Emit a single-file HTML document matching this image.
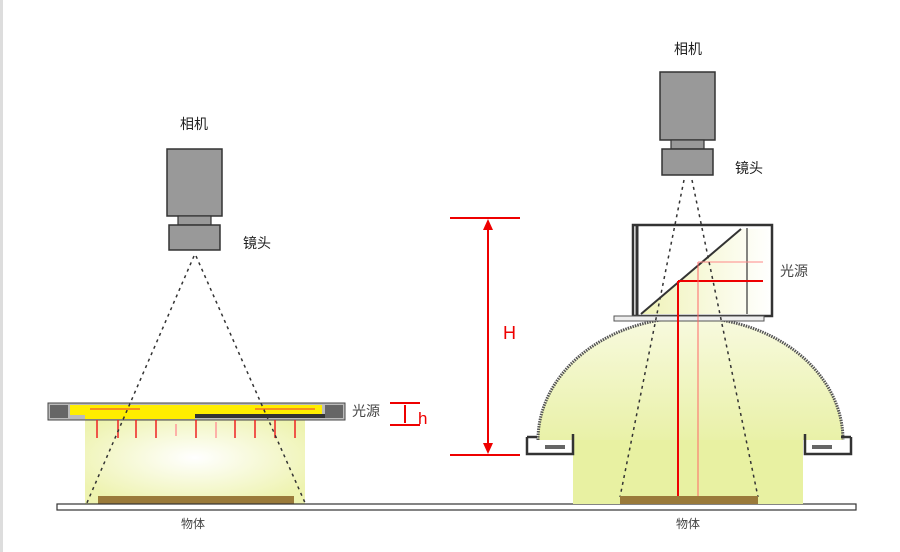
<!DOCTYPE html>
<html><head><meta charset="utf-8"><style>
body{margin:0;background:#fff}
svg{display:block}
text{font-family:"Liberation Sans","Noto Sans CJK SC",sans-serif}
</style></head><body>
<svg width="900" height="552" viewBox="0 0 900 552" xmlns="http://www.w3.org/2000/svg">
<defs>
<radialGradient id="g1" cx="0.5" cy="0.45" r="0.6">
<stop offset="0" stop-color="#ffffff"/><stop offset="1" stop-color="#eef3b0"/></radialGradient>
<linearGradient id="g2" x1="0" y1="0" x2="0" y2="1">
<stop offset="0" stop-color="#f8fadf"/><stop offset="1" stop-color="#e9f1a8"/></linearGradient>
<linearGradient id="g3" x1="0" y1="0" x2="1" y2="0">
<stop offset="0" stop-color="#f0f3b8"/><stop offset="1" stop-color="#ffffff"/></linearGradient>
</defs>
<rect x="0" y="0" width="900" height="552" fill="#fff"/>
<rect x="0" y="0" width="3" height="552" fill="#ddd"/>

<!-- LEFT -->
<text x="194" y="129" font-size="14" text-anchor="middle" fill="#222">相机</text>
<rect x="167" y="149" width="55" height="67" fill="#999" stroke="#333" stroke-width="1.5"/>
<rect x="178" y="216" width="33" height="9" fill="#999" stroke="#333" stroke-width="1.2"/>
<rect x="169" y="225" width="51" height="25" fill="#999" stroke="#333" stroke-width="1.5"/>
<text x="243" y="248" font-size="14" fill="#222">镜头</text>

<rect x="85" y="420" width="220" height="84" fill="url(#g1)"/>
<rect x="48" y="403" width="297" height="17" fill="#bbb" stroke="#444"/>
<rect x="50" y="405" width="18" height="13" fill="#666"/>
<rect x="325" y="405" width="18" height="13" fill="#666"/>
<rect x="70" y="405" width="252" height="10" fill="#ffee00"/>
<rect x="195" y="414" width="130" height="4" fill="#333"/>
<rect x="85" y="415" width="110" height="4" fill="#ffee00"/>
<line x1="90" y1="409" x2="140" y2="409" stroke="#e33" stroke-width="1"/>
<line x1="255" y1="409" x2="315" y2="409" stroke="#e33" stroke-width="1"/>
<g stroke="#e22" stroke-width="1.5">
<line x1="97" y1="420" x2="97" y2="438"/><line x1="118" y1="420" x2="118" y2="438"/><line x1="136" y1="420" x2="136" y2="438"/>
<line x1="156" y1="420" x2="156" y2="438"/><line x1="176" y1="424" x2="176" y2="436" stroke="#f99"/><line x1="196" y1="420" x2="196" y2="438"/>
<line x1="216" y1="422" x2="216" y2="438" stroke="#f99"/><line x1="235" y1="420" x2="235" y2="438"/><line x1="255" y1="420" x2="255" y2="438"/>
<line x1="275" y1="420" x2="275" y2="438"/><line x1="295" y1="420" x2="295" y2="438"/>
</g>
<g stroke="#333" stroke-width="1.5" stroke-dasharray="3,4" fill="none">
<line x1="194" y1="256" x2="86" y2="505"/><line x1="196" y1="256" x2="306" y2="505"/>
</g>
<rect x="98" y="496" width="196" height="8" fill="#9a7a3a"/>
<text x="352" y="416" font-size="14" fill="#444">光源</text>
<g stroke="#e00" stroke-width="2" fill="#e00">
<line x1="390" y1="403" x2="420" y2="403"/><line x1="390" y1="425" x2="420" y2="425"/>
<line x1="405" y1="405" x2="405" y2="423"/>
</g>
<text x="418" y="424" font-size="17" fill="#e00">h</text>

<!-- ground -->
<rect x="57" y="504" width="799" height="6" fill="#fff" stroke="#333" stroke-width="1.2"/>
<text x="193" y="528" font-size="12" text-anchor="middle" fill="#444">物体</text>
<text x="688" y="528" font-size="12" text-anchor="middle" fill="#444">物体</text>

<!-- H -->
<g stroke="#e00" stroke-width="2">
<line x1="450" y1="218" x2="520" y2="218"/><line x1="450" y1="455" x2="520" y2="455"/>
<line x1="488" y1="222" x2="488" y2="451"/>
</g>
<polygon points="488,219 483,230 493,230" fill="#e00"/>
<polygon points="488,454 483,443 493,443" fill="#e00"/>
<text x="503" y="339" font-size="18" fill="#e00">H</text>

<!-- RIGHT -->
<text x="688" y="54" font-size="14" text-anchor="middle" fill="#222">相机</text>
<rect x="660" y="72" width="55" height="68" fill="#999" stroke="#333" stroke-width="1.5"/>
<rect x="671" y="140" width="33" height="9" fill="#999" stroke="#333" stroke-width="1.2"/>
<rect x="662" y="149" width="51" height="26" fill="#999" stroke="#333" stroke-width="1.5"/>
<text x="735" y="173" font-size="14" fill="#222">镜头</text>

<!-- dome -->
<path d="M538,440 A152,122 0 0 1 843,440 Z" fill="url(#g2)"/>
<rect x="573" y="440" width="230" height="64" fill="#e8f1a2"/>
<path d="M538,440 A152,122 0 0 1 843,440" fill="none" stroke="#555" stroke-width="3" stroke-dasharray="1.5,1"/>
<path d="M527,437 h10 M527,437 v17 h46 v-20" fill="none" stroke="#333" stroke-width="2.5"/>
<path d="M851,437 h-10 M851,437 v17 h-46 v-20" fill="none" stroke="#333" stroke-width="2.5"/>
<rect x="545" y="445" width="20" height="4" fill="#666"/>
<rect x="812" y="445" width="20" height="4" fill="#666"/>

<!-- box -->
<polygon points="641,314 741,229 772,229 772,314" fill="url(#g3)"/>
<rect x="633" y="225" width="139" height="91" fill="none" stroke="#333" stroke-width="2.5"/>
<line x1="637" y1="225" x2="637" y2="316" stroke="#333" stroke-width="3"/>
<line x1="641" y1="314" x2="741" y2="229" stroke="#333" stroke-width="2"/>
<line x1="747" y1="228" x2="747" y2="314" stroke="#333" stroke-width="1.2"/>
<rect x="614" y="316" width="150" height="5" fill="#eee" stroke="#555"/>
<g stroke="#e00">
<line x1="678" y1="281" x2="678" y2="497" stroke-width="2"/>
<line x1="678" y1="281" x2="763" y2="281" stroke-width="2"/>
<line x1="698" y1="262" x2="698" y2="497" stroke-width="1" stroke="#f66"/>
<line x1="698" y1="262" x2="763" y2="262" stroke-width="1" stroke="#f88"/>
</g>
<g stroke="#333" stroke-width="1.5" stroke-dasharray="3,4" fill="none">
<line x1="684" y1="180" x2="620" y2="497"/><line x1="692" y1="180" x2="758" y2="497"/>
</g>
<rect x="620" y="496" width="138" height="8" fill="#9a7a3a"/>
<text x="780" y="276" font-size="14" fill="#444">光源</text>
</svg>
</body></html>
